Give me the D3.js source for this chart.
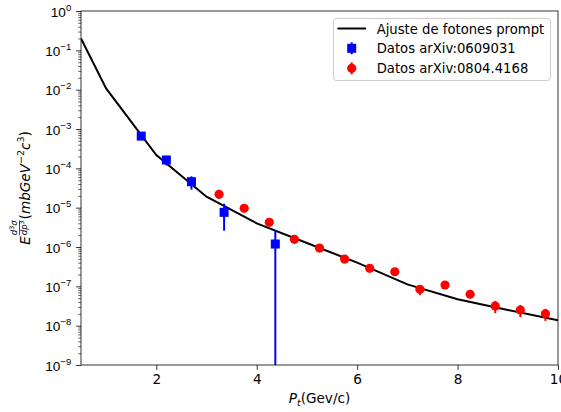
<!DOCTYPE html>
<html>
<head>
<meta charset="utf-8">
<script src="https://cdn.jsdelivr.net/npm/d3@7"></script>
<style>
  body { margin: 0; background: #fff; }
  svg { font-family: "DejaVu Sans", sans-serif; }
</style>
</head>
<body>
<div id="chart"></div>
<script>
// curve: ajuste de fotones prompt
const fitX = [0.5, 1, 2, 3, 4, 5, 6, 7, 8, 9, 10];
const fitY = [0.2, 1.08e-2, 2.18e-4, 1.9e-5, 4.0e-6, 1.26e-6, 4.0e-7, 1.12e-7, 4.7e-8, 2.5e-8, 1.38e-8];

// Datos arXiv:0609031
const blueX = [1.7, 2.2, 2.7, 3.35, 4.37];
const blueY = [6.6e-4, 1.63e-4, 4.57e-5, 7.6e-6, 1.19e-6];
const blueErr = [6e-5, 4.5e-5, 1.7e-5, 5.0e-6, 1.5e-6];

// Datos arXiv:0804.4168
const redX = [3.25, 3.75, 4.25, 4.75, 5.25, 5.75, 6.25, 6.75, 7.25, 7.75, 8.25, 8.75, 9.25, 9.75];
const redY = [2.18e-5, 9.6e-6, 4.24e-6, 1.57e-6, 9.4e-7, 4.94e-7, 2.87e-7, 2.35e-7, 8.4e-8, 1.08e-7, 6.3e-8, 3.16e-8, 2.5e-8, 2.0e-8];
const redErr = [1.5e-6, 7e-7, 3e-7, 1.2e-7, 7e-8, 4e-8, 2.5e-8, 2e-8, 2.4e-8, 1e-8, 8e-9, 1.07e-8, 8.5e-9, 6.8e-9];

const xTicks = [2, 4, 6, 8, 10];
const yExp = [0, -1, -2, -3, -4, -5, -6, -7, -8, -9];

const legendLabels = ["Ajuste de fotones prompt", "Datos arXiv:0609031", "Datos arXiv:0804.4168"];

const W = 561, H = 412;
const margin = {top: 11, right: 3, bottom: 47, left: 81};
const width = W - margin.left - margin.right,
      height = H - margin.top - margin.bottom;
const fs = 13.6;

const svg = d3.select("#chart").append("svg")
    .attr("width", W).attr("height", H);

const g = svg.append("g")
    .attr("transform", `translate(${margin.left},${margin.top})`);

const x = d3.scaleLinear().domain([0.5, 10]).range([0, width]);
const y = d3.scaleLog().domain([1e-9, 1]).range([height, 0]);

// clip
svg.append("defs").append("clipPath").attr("id", "clip")
  .append("rect").attr("width", width).attr("height", height);

const plot = g.append("g").attr("clip-path", "url(#clip)");

// fit curve
const fit = fitX.map((d, i) => [d, fitY[i]]);
plot.append("path")
    .datum(fit)
    .attr("fill", "none")
    .attr("stroke", "#000")
    .attr("stroke-width", 2)
    .attr("d", d3.line().x(d => x(d[0])).y(d => y(d[1])));

// blue errorbars + squares
const blue = blueX.map((d, i) => ({x: d, y: blueY[i], e: blueErr[i]}));
plot.selectAll(".berr").data(blue).enter().append("line")
    .attr("x1", d => x(d.x)).attr("x2", d => x(d.x))
    .attr("y1", d => d.y - d.e > 0 ? y(d.y - d.e) : height + 5)
    .attr("y2", d => y(d.y + d.e))
    .attr("stroke", "#0000ff").attr("stroke-width", 2);
const sq = 9;
plot.selectAll(".bsq").data(blue).enter().append("rect")
    .attr("x", d => x(d.x) - sq / 2).attr("y", d => y(d.y) - sq / 2)
    .attr("width", sq).attr("height", sq)
    .attr("fill", "#0000ff");

// red errorbars + circles
const red = redX.map((d, i) => ({x: d, y: redY[i], e: redErr[i]}));
plot.selectAll(".rerr").data(red).enter().append("line")
    .attr("x1", d => x(d.x)).attr("x2", d => x(d.x))
    .attr("y1", d => y(d.y - d.e)).attr("y2", d => y(d.y + d.e))
    .attr("stroke", "#ff0000").attr("stroke-width", 2);
plot.selectAll(".rdot").data(red).enter().append("circle")
    .attr("cx", d => x(d.x)).attr("cy", d => y(d.y))
    .attr("r", 4.6).attr("fill", "#ff0000");

// x axis
const xAxis = g.append("g")
    .attr("transform", `translate(0,${height})`)
    .call(d3.axisBottom(x).tickValues(xTicks).tickSize(4.9).tickPadding(4).tickFormat(d3.format("d")));
xAxis.select(".domain").remove();
xAxis.selectAll("text").attr("font-size", fs).attr("fill", "#000").attr("font-family", "DejaVu Sans");
xAxis.selectAll("line").attr("stroke", "#000").attr("stroke-width", 0.8);

// y axis: minor ticks
const minors = [];
for (let k = -9; k < 0; k++) for (let m = 2; m <= 9; m++) minors.push(m * Math.pow(10, k));
const yMinor = g.append("g")
    .call(d3.axisLeft(y).tickValues(minors).tickSize(2.8).tickFormat(""));
yMinor.select(".domain").remove();
yMinor.selectAll("line").attr("stroke", "#000").attr("stroke-width", 0.6);

const yMajor = g.append("g")
    .call(d3.axisLeft(y).tickValues(yExp.map(e => Math.pow(10, e))).tickSize(4.9).tickFormat(""));
yMajor.select(".domain").remove();
yMajor.selectAll("line").attr("stroke", "#000").attr("stroke-width", 0.8);

yMajor.selectAll(".tick").each(function(d) {
  const e = Math.round(Math.log10(d));
  const t = d3.select(this).append("text")
      .attr("x", -9.8).attr("y", 5)
      .attr("text-anchor", "end")
      .attr("fill", "#000")
      .attr("font-size", fs);
  t.append("tspan").text("10");
  t.append("tspan").attr("font-size", fs * 0.7).attr("dy", -6)
      .text(e === 0 ? "0" : "\u2212" + Math.abs(e));
});

// frame
g.append("rect")
    .attr("width", width).attr("height", height)
    .attr("fill", "none").attr("stroke", "#000").attr("stroke-width", 0.8);

// x label
const xl = svg.append("text")
    .attr("x", margin.left + width / 2).attr("y", 403)
    .attr("text-anchor", "middle").attr("font-size", fs);
xl.append("tspan").attr("font-style", "italic").text("P");
xl.append("tspan").attr("font-style", "italic").attr("font-size", fs * 0.7).attr("dy", 3).text("t");
xl.append("tspan").attr("dy", -3).text("(Gev/c)");

// y label
const yl = svg.append("g")
    .attr("transform", `translate(30,${margin.top + height / 2}) rotate(-90)`);
const yg = yl.append("g");
const tE = yg.append("text").attr("font-size", fs).attr("font-style", "italic").text("E");
let cx = tE.node().getComputedTextLength() + 1;
const sfs = 8.5;
const num = yg.append("text").attr("x", cx).attr("y", -13).attr("font-size", sfs);
num.append("tspan").attr("font-style", "italic").text("d");
num.append("tspan").attr("font-size", sfs * 0.75).attr("dy", -3).text("3");
num.append("tspan").attr("font-style", "italic").attr("dy", 3).text("\u03c3");
const den = yg.append("text").attr("x", cx).attr("y", -3).attr("font-size", sfs);
den.append("tspan").attr("font-style", "italic").text("dp");
den.append("tspan").attr("font-size", sfs * 0.75).attr("dy", -3).text("3");
const fw = Math.max(num.node().getComputedTextLength(), den.node().getComputedTextLength());
yg.append("line").attr("x1", cx).attr("x2", cx + fw).attr("y1", -10.5).attr("y2", -10.5)
    .attr("stroke", "#000").attr("stroke-width", 0.7);
cx += fw + 1;
const rest = yg.append("text").attr("x", cx).attr("font-size", fs);
rest.append("tspan").text("(");
rest.append("tspan").attr("font-style", "italic").text("mbGeV");
rest.append("tspan").attr("font-size", fs * 0.7).attr("dy", -6).text("\u22122");
rest.append("tspan").attr("font-style", "italic").attr("dy", 6).text("c");
rest.append("tspan").attr("font-size", fs * 0.7).attr("dy", -6).text("3");
rest.append("tspan").attr("dy", 6).text(")");
const total = cx + rest.node().getComputedTextLength();
yg.attr("transform", `translate(${-total / 2},0)`);

// legend
const lfs = 13.2;
const lg = svg.append("g");
lg.append("rect")
    .attr("x", 333.5).attr("y", 18.5).attr("width", 217).attr("height", 62).attr("rx", 3)
    .attr("fill", "#fff").attr("fill-opacity", 0.8)
    .attr("stroke", "#cccccc").attr("stroke-width", 1);
const rowY = [28.5, 48.3, 68.3];
lg.append("line").attr("x1", 337.5).attr("x2", 366).attr("y1", rowY[0]).attr("y2", rowY[0])
    .attr("stroke", "#000").attr("stroke-width", 2);
lg.append("line").attr("x1", 351.7).attr("x2", 351.7).attr("y1", rowY[1] - 6).attr("y2", rowY[1] + 6)
    .attr("stroke", "#0000ff").attr("stroke-width", 2);
lg.append("rect").attr("x", 351.7 - sq / 2).attr("y", rowY[1] - sq / 2).attr("width", sq).attr("height", sq)
    .attr("fill", "#0000ff");
lg.append("line").attr("x1", 351.7).attr("x2", 351.7).attr("y1", rowY[2] - 6).attr("y2", rowY[2] + 6)
    .attr("stroke", "#ff0000").attr("stroke-width", 2);
lg.append("circle").attr("cx", 351.7).attr("cy", rowY[2]).attr("r", 4.6).attr("fill", "#ff0000");
lg.selectAll(".lt").data(legendLabels).enter().append("text")
    .attr("x", 376.7).attr("y", (d, i) => rowY[i] + 5)
    .attr("font-size", lfs).attr("fill", "#000")
    .text(d => d);
</script>
</body>
</html>
